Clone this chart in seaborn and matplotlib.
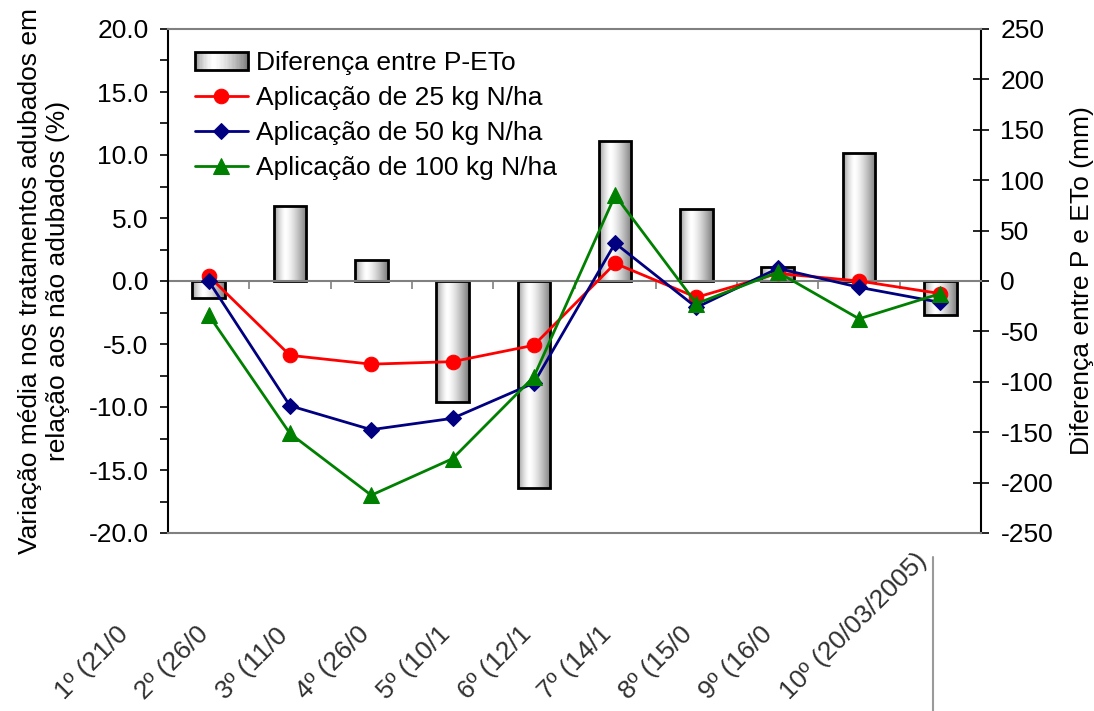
import numpy as np
import pandas as pd
import matplotlib
matplotlib.use('Agg')
import matplotlib.pyplot as plt
import seaborn as sns
from matplotlib.transforms import Bbox, TransformedBbox
from matplotlib.lines import Line2D
from matplotlib.patches import Rectangle
from matplotlib.legend_handler import HandlerBase
from matplotlib.ticker import FormatStrFormatter

# ---------------- data ----------------
categories = ["1º (21/0", "2º (26/0", "3º (11/0", "4º (26/0", "5º (10/1",
              "6º (12/1", "7º (14/1", "8º (15/0", "9º (16/0", "10º (20/03/2005)"]
diff_p_eto = [-17, 74, 21, -120, -205, 139, 71, 14, 127, -34]
n25 = [0.4, -5.9, -6.6, -6.4, -5.1, 1.4, -1.3, 0.6, 0.0, -1.0]
n50 = [0.0, -9.9, -11.8, -10.9, -8.1, 3.0, -2.1, 1.0, -0.5, -1.7]
n100 = [-2.7, -12.1, -17.0, -14.1, -7.6, 6.8, -1.8, 0.7, -3.0, -1.0]
bar_label = "Diferença entre P-ETo"
line_labels = ["Aplicação de 25 kg N/ha", "Aplicação de 50 kg N/ha", "Aplicação de 100 kg N/ha"]
left_ylabel = "Variação média nos tratamentos adubados em\nrelação aos não adubados (%)"
right_ylabel = "Diferença entre P e ETo (mm)"

sns.set_style('white')
plt.rcParams['font.family'] = ['Liberation Sans', 'DejaVu Sans']
plt.rcParams['axes.unicode_minus'] = False
for k in ['text.color', 'axes.labelcolor', 'xtick.color', 'ytick.color']:
    plt.rcParams[k] = 'black'

FS = 19
W, H = 1094, 711
fig = plt.figure(figsize=(W / 100, H / 100), dpi=100)
ax_bar = fig.add_axes([168 / W, 1 - 533 / H, 813 / W, 504 / H])
ax_line = ax_bar.twinx()

df = pd.DataFrame({'cat': categories, 'diff': diff_p_eto,
                   'pos': np.arange(len(categories)),
                   'n25': n25, 'n50': n50, 'n100': n100})

# ---------------- bars (right axis) ----------------
sns.barplot(data=df, x='cat', y='diff', ax=ax_bar, width=0.4, color='#d9d9d9',
            edgecolor='black', linewidth=2, saturation=1)


def profile(t):
    t = np.asarray(t, dtype=float)
    return np.where(t < 0.35, 1 - 0.40 * ((0.35 - t) / 0.35) ** 1.5,
                    1 - 0.52 * ((t - 0.35) / 0.65) ** 1.4)


grad = np.tile(profile(np.linspace(0, 1, 256)), (2, 1))
for p in list(ax_bar.patches):
    x, y, w, h = p.get_x(), p.get_y(), p.get_width(), p.get_height()
    p.set_facecolor('none')
    im = ax_bar.imshow(grad, cmap='gray', vmin=0, vmax=1,
                       extent=[x, x + w, min(y, y + h), max(y, y + h)],
                       aspect='auto', interpolation='bilinear',
                       zorder=p.get_zorder() - 0.01)
    im.set_clip_path(p)

# ---------------- lines (left axis) ----------------
styles = [('n25', '#ff0000', 'o', 10.5), ('n50', '#000080', 'D', 8.5), ('n100', '#008000', '^', 11)]
for (col, color, marker, ms), lab in zip(styles, line_labels):
    sns.lineplot(data=df, x='pos', y=col, ax=ax_line, color=color, marker=marker,
                 markersize=ms, markeredgecolor=color, linewidth=2, label=lab, sort=False)

# ---------------- axes ----------------
ax_bar.set_xlim(-0.5, len(categories) - 0.5)
ax_bar.set_ylim(-250, 250)
ax_line.set_ylim(-20, 20)

ax_bar.yaxis.tick_right()
ax_bar.yaxis.set_label_position('right')
ax_line.yaxis.tick_left()
ax_line.yaxis.set_label_position('left')

ax_bar.set_yticks(np.arange(-250, 251, 50))
ax_line.set_yticks(np.arange(-20, 21, 5))
ax_line.set_yticks(np.arange(-20, 21, 2.5), minor=True)
ax_line.yaxis.set_major_formatter(FormatStrFormatter('%.1f'))

ax_bar.set_xticks(np.arange(0.5, len(categories) - 0.5, 1))
ax_bar.set_xticklabels([])
ax_bar.set_xlabel('')
ax_line.set_xlabel('')

ax_bar.tick_params(axis='y', which='major', direction='inout', length=12, width=1.2,
                   pad=8, labelsize=FS, right=True, left=False, labelright=True,
                   labelleft=False, colors='black')
ax_line.tick_params(axis='y', which='both', direction='out', length=6, width=1.2,
                    pad=8, labelsize=FS, left=True, right=False, labelleft=True,
                    labelright=False, colors='black')
ax_bar.tick_params(axis='x', direction='out', length=6, width=1.2, color='#808080',
                   bottom=True)

for s in ['left', 'top']:
    ax_bar.spines[s].set_visible(False)
ax_bar.spines['right'].set_color('black')
ax_bar.spines['right'].set_linewidth(1.5)
ax_bar.spines['bottom'].set_position(('data', 0))
ax_bar.spines['bottom'].set_color('#808080')
ax_bar.spines['bottom'].set_linewidth(1.5)

ax_line.spines['right'].set_visible(False)
ax_line.spines['left'].set_color('black')
ax_line.spines['left'].set_linewidth(1.5)
for s in ['top', 'bottom']:
    ax_line.spines[s].set_color('#808080')
    ax_line.spines[s].set_linewidth(1.5)

ax_line.set_ylabel(left_ylabel, fontsize=FS)
ax_line.yaxis.set_label_coords(-0.121, 0.5)
ax_bar.set_ylabel(right_ylabel, fontsize=FS)
ax_bar.yaxis.set_label_coords(1.11, 0.5)


# ---------------- legend ----------------
class GradBar(Rectangle):
    pass


class GradientHandler(HandlerBase):
    def create_artists(self, legend, orig_handle, xdescent, ydescent, width, height,
                       fontsize, trans):
        arts = []
        n = 40
        vals = profile((np.arange(n) + 0.5) / n)
        for k in range(n):
            arts.append(Rectangle((-xdescent + k * width / n, -ydescent), width / n * 1.05,
                                  height, facecolor=str(float(vals[k])),
                                  edgecolor='none', transform=trans))
        arts.append(Rectangle((-xdescent, -ydescent), width, height, fill=False,
                              edgecolor='black', linewidth=2, transform=trans))
        return arts


h_lines, l_lines = ax_line.get_legend_handles_labels()
proxy = GradBar((0, 0), 1, 1)
ax_line.legend([proxy] + h_lines, [bar_label] + l_lines,
               handler_map={GradBar: GradientHandler()},
               loc='upper left', bbox_to_anchor=(195 / W, 1 - 51 / H),
               bbox_transform=fig.transFigure, frameon=False, fontsize=FS,
               handlelength=2.0, handleheight=0.65, handletextpad=0.3,
               labelspacing=0.42, borderpad=0, borderaxespad=0)

# ---------------- category labels (clipped, rotated) ----------------
for i, lab in enumerate(categories):
    x0 = 64 + 80.6 * i
    t = fig.text(x0 / W, 1 - 700 / H, lab, rotation=45, rotation_mode='anchor',
                 ha='left', va='baseline', fontsize=19, color='#303030')
    xc = 130 + 81 * i if i < len(categories) - 1 else 933
    t.set_clip_box(TransformedBbox(Bbox.from_extents(0, 0, xc / W, 1), fig.transFigure))
    t.set_clip_on(True)

fig.add_artist(Line2D([933 / W, 933 / W], [0, 1 - 557 / H], transform=fig.transFigure,
                      color='#9a9a9a', linewidth=1.5))

fig.savefig('out.png', dpi=100)
